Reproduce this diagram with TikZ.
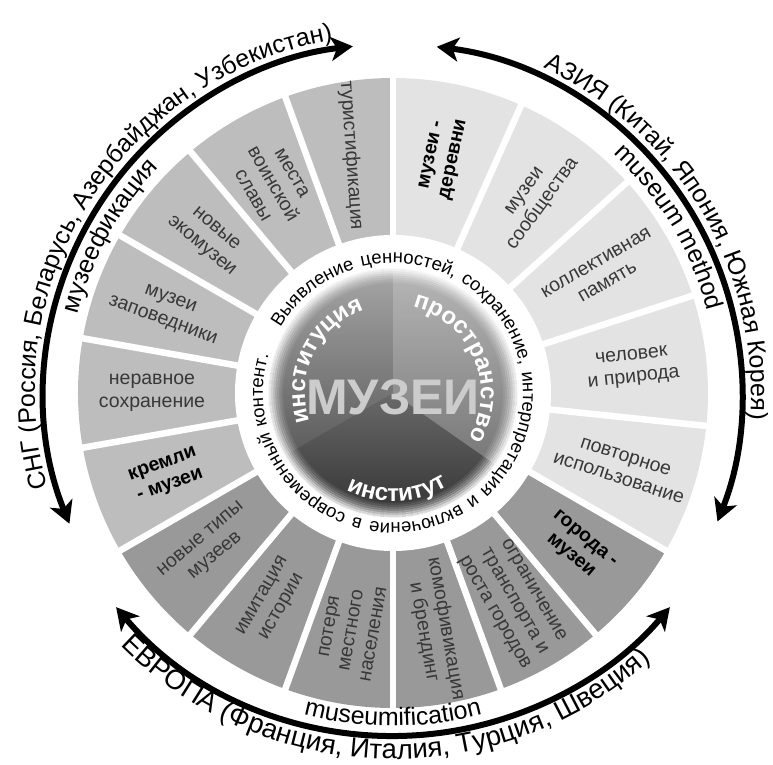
\documentclass[tikz,border=0pt]{standalone}
\usepackage{fontspec}
\setmainfont{Liberation Sans}
\usetikzlibrary{arrows.meta,decorations.text}
\definecolor{lightsec}{gray}{0.89}
\definecolor{midsec}{gray}{0.74}
\definecolor{darksec}{gray}{0.60}
\definecolor{labelgray}{gray}{0.22}
\definecolor{muzeigray}{gray}{0.80}
\newcommand\ringfont{\fontsize{18.5}{18.5}\selectfont}
\newcommand\innerfont{\fontsize{24}{24}\selectfont\bfseries\color{white}}
\newcommand\outerfont{\fontsize{25}{25}\selectfont}
\newcommand\eurofont{\fontsize{27.5}{27.5}\selectfont}

\begin{document}
\begin{tikzpicture}[x=1pt,y=1pt]
% Styles of the wheel
\tikzstyle{seclabel}=[align=center,text=labelgray,font=\fontsize{19.5}{22.5}\selectfont]
\tikzstyle{boldlabel}=[align=center,text=black,font=\fontsize{19.5}{22.5}\selectfont\bfseries]
\tikzstyle{gap line}=[white,line width=6.5pt]
\tikzstyle{region arrow}=[line width=6pt,{Stealth[length=22pt,width=24pt,inset=6pt]}-{Stealth[length=22pt,width=24pt,inset=6pt]}]
\useasboundingbox (-393,-371) rectangle (380,393);
% The sectors
\foreach \a/\b/\c in {90/66/lightsec,66/42/lightsec,42/18/lightsec,18/-6/lightsec,-6/-30/lightsec,
  -30/-50/darksec,-50/-70/darksec,-70/-90/darksec,-90/-110/darksec,-110/-130/darksec,-130/-150/darksec,
  -150/-170/midsec,-170/-190/midsec,-190/-210/midsec,-210/-230/midsec,-230/-250/midsec,-250/-270/midsec}
  \fill[\c] (0,0) -- (\a:315) arc[start angle=\a,end angle=\b,radius=315] -- cycle;
\foreach \a in {90,66,42,18,-6,-30,-50,-70,-90,-110,-130,-150,-170,-190,-210,-230,-250}
  \draw[gap line] (0,0) -- (\a:322);
\fill[white] (0,0) circle[radius=158];
% Sector labels
\foreach \ang/\rot/\sty/\txt [count=\i] in {
  78/78/boldlabel/{музеи -\\деревни},
  54/54/seclabel/{музеи\\сообщества},
  30/30/seclabel/{коллективная\\память},
  6/6/seclabel/{человек\\и природа},
  -18/-18/seclabel/{повторное\\использование},
  -40/-40/boldlabel/{города -\\музеи},
  -60/-60/seclabel/{ограничение\\транспорта и\\роста городов},
  -80/-80/seclabel/{комофивикация\\и брендинг},
  260/80/seclabel/{потеря\\местного\\населения},
  240/60/seclabel/{имитация\\истории},
  220/40/seclabel/{новые типы\\музеев},
  200/20/boldlabel/{кремли\\- музеи},
  180/0/seclabel/{неравное\\сохранение},
  160/-20/seclabel/{музеи\\заповедники},
  140/-40/seclabel/{новые\\экомузеи},
  120/-60/seclabel/{места\\воинской\\славы},
  100/-86/seclabel/{туристификация}}
  \node[\sty,rotate=\rot] (lab\i) at (\ang:241) {\txt};
% Ring text
\path[decorate,decoration={text along path,
  text={|\ringfont|Выявление ценностей, сохранение, интерпретация и включение в современный контент.},
  text align={fit to path stretching spaces}}]
  (150:130) arc[start angle=150,end angle=-197,radius=130];
% The disc
\shade[top color=gray!75,bottom color=black!80] (0,0) circle[radius=125];
\fill[white,opacity=0.25] (0,0) -- (90:125) arc[start angle=90,end angle=-35,radius=125] -- cycle;
\fill[white,opacity=0.08] (0,0) -- (90:125) arc[start angle=90,end angle=210,radius=125] -- cycle;
\foreach \r/\o in {111/0.08,113/0.15,115/0.25,117/0.35,119/0.5,121/0.65,123/0.8,125/0.95}
  \draw[white,opacity=\o,line width=2.2pt] (0,0) circle[radius=\r];
\node[font=\fontsize{50}{50}\selectfont\bfseries,text=muzeigray] (muzei) at (0,-4) {МУЗЕИ};
\path[decorate,decoration={text along path,text={|\innerfont|институция},text align=center}]
  (200:88) arc[start angle=200,end angle=108,radius=88];
\path[decorate,decoration={text along path,text={|\innerfont|пространство},text align=center}]
  (78:88) arc[start angle=78,end angle=-32,radius=88];
\path[decorate,decoration={text along path,text={|\innerfont|институт},text align=center}]
  (240:108) arc[start angle=240,end angle=305,radius=108];
% Regions around
\draw[region arrow] (202:349) arc[start angle=202,end angle=96.6,radius=349];
\draw[region arrow] (82.8:349) arc[start angle=82.8,end angle=-21.6,radius=349];
\path[decorate,decoration={text along path,text={|\outerfont|СНГ (Россия, Беларусь, Азербайджан, Узбекистан)},text align=center}]
  (210:358) arc[start angle=210,end angle=85,radius=358];
\path[decorate,decoration={text along path,text={|\outerfont|музеефикация},text align=center}]
  (176:325) arc[start angle=176,end angle=126,radius=325];
\path[decorate,decoration={text along path,text={|\outerfont|АЗИЯ (Китай, Япония, Южная Корея)},text align=center}]
  (76:358) arc[start angle=76,end angle=-15,radius=358];
\path[decorate,decoration={text along path,text={|\outerfont|museum method},text align=center}]
  (56:325) arc[start angle=56,end angle=6,radius=325];
% Europe: a flatter arc
\begin{scope}[shift={(0,19)}]
\draw[region arrow] (220.1:362) arc[start angle=220.1,end angle=319.9,radius=362];
\path[decorate,decoration={text along path,text={|\eurofont|ЕВРОПА (Франция, Италия, Турция, Швеция)},text align=center}]
  (215:385) arc[start angle=215,end angle=322,radius=385];
\path[decorate,decoration={text along path,text={|\outerfont|museumification},text align=center}]
  (250:352) arc[start angle=250,end angle=290,radius=352];
\end{scope}
\end{tikzpicture}
\end{document}
